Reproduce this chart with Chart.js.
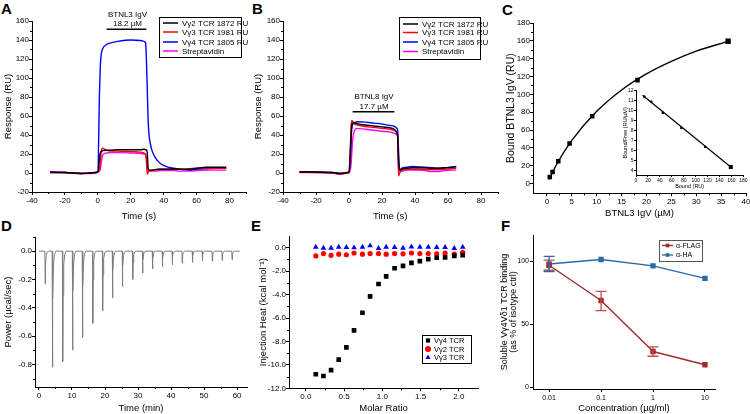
<!DOCTYPE html>
<html>
<head>
<meta charset="utf-8">
<script src="https://cdn.jsdelivr.net/npm/chart.js@4.4.1/dist/chart.umd.min.js"></script>
<style>
html, body { margin: 0; padding: 0; background: #fff; width: 750px; height: 414px; overflow: hidden; }
canvas { position: absolute; }
.lbl { position: absolute; font: bold 15px "Liberation Sans", Arial, sans-serif; line-height: 15px; }
</style>
</head>
<body>
<div class="lbl" style="left:1px;top:1px">A</div>
<div class="lbl" style="left:252px;top:1px">B</div>
<div class="lbl" style="left:502px;top:2px">C</div>
<div class="lbl" style="left:1px;top:218px">D</div>
<div class="lbl" style="left:251px;top:218px">E</div>
<div class="lbl" style="left:501px;top:218px">F</div>
<canvas id="cA"></canvas>
<canvas id="cB"></canvas>
<canvas id="cC"></canvas>
<canvas id="cInset"></canvas>
<canvas id="cD"></canvas>
<canvas id="cE"></canvas>
<canvas id="cF"></canvas>
<script>
// ---- data: panel A (SPR, BTNL3 IgV) ----
const aTime  = [-29,-20,-10,-5,-1,0,1,1.5,2,3,5,8,12,20,26,28,29,29.5,30,30.5,31,32,33,35,38,42,46,50,52,56,60,66,72,78]
const aVg2   = [0.5,0.5,-0.5,0,0.5,1,16,21,22.5,23.5,24,24,24.5,24.5,24.5,25,24.5,24.5,22,6,3.5,3,3,3.5,4,4,4.5,4,4,4,5,6,6,6]
const aVg3   = [0.5,0.5,-0.5,0,0.5,1.5,4,12,22,26,24,23,23,22.5,22,21,19.5,12,-1,0.5,2,2.5,3,3.5,4,4,4,4,4,4.5,5,5,5,5]
const aVg4   = [1,0.5,-0.5,0,0.5,1,85,112,124,131,135,137,138.5,140,139.5,138.5,137,120,90,58,42,30,23,16,10,6.5,5,4,3.5,3,4,4.5,5,5]
const aStrep = [1.5,0.5,-0.5,-0.5,0.5,1,2,4,10,19,21,21.5,21.5,21,20.5,20,19,17,8,3,2,2,2,2,2.5,2.5,2.5,2,2,2,2.5,3,3,3]
const aInjection = [5.3, 29.5]

// ---- panel B (SPR, BTNL8 IgV) ----
const bTime  = [-30,-20,-10,-5,-1,0,1,1.5,2,3,5,10,15,20,25,27,28,29,29.5,30,30.5,31,32,35,38,42,46,50,54,58,62,65]
const bVg2   = [1,1,0.5,-0.5,0.5,1,30,48,52,53,52,50.5,49.5,48.5,47.5,46.5,45,42,38,15,4,3,4,5,5.5,5.5,5.5,5,5,5.5,6,7]
const bVg3   = [1,0.5,0,-1,0,0.5,35,54,55,52,50.5,49,48,47,46,45,44.5,43,40,-3,-1,1,3,4,4,4,4,3.5,3.5,4,4.5,5]
const bVg4   = [1.5,1,0.5,-0.5,0.5,1,20,42,50,52.5,54,53.5,52.5,51.5,50,49.5,48.5,47,45,25,5,4,5,6,7,6.5,6,5.5,5,5.5,6,6.5]
const bStrep = [0.5,0.5,0,-1,0,0.5,5,15,30,43,47,46,45,44,43,42,41.5,40,38,10,2,2,2,3,3,3,2.5,1.5,1.5,2.5,3,3]
const bInjection = [2.2, 27.5]

const spTicksX = [-40,-20,0,20,40,60,80]
const spTicksY = [-20,0,20,40,60,80,100,120,140,160]

// ---- panel C (binding curve + Scatchard inset) ----
const cConc  = [0.57,1.14,2.28,4.55,9.1,18.2,36.4]
const cBound = [7.5,13,25,45,75.5,116,159.5]
const cFitConc  = [0.4,2,5,10,15,20,25,30,36.4]
const cFitBound = [4.7,22,48.4,81,105,123,137,148.4,159.5]
const cTicksX = [0,5,10,15,20,25,30,35,40]
const cTicksY = [0,20,40,60,80,100,120,140,160,180]

const inBound = [14,25.6,45,76,116,159]
const inRatio = [11.4,10.9,9.8,8.3,6.4,4.4]
const inFitBound = [11,160]
const inFitRatio = [11.55,4.35]
const inTicksX = [0,20,40,60,80,100,120,140,160,180]
const inTicksY = [4,5,6,7,8,9,10,11,12]

// ---- panel D (ITC raw power) ----
const dSpikeTime  = [1.8,4.0,7.1,10.1,13.1,16.2,19.2,22.2,25.2,28.3,31.3,34.3,37.3,40.3,43.3,46.4,49.4,52.4,55.4,58.4]
const dSpikeDepth = [-0.23,-0.82,-0.78,-0.70,-0.61,-0.51,-0.42,-0.33,-0.25,-0.20,-0.155,-0.125,-0.11,-0.095,-0.085,-0.08,-0.07,-0.07,-0.065,-0.06]
const dTicksX = [0,10,20,30,40,50,60]
const dTicksY = [0,-0.2,-0.4,-0.6,-0.8]

// ---- panel E (ITC integrated heats) ----
const eRatio = [0.13,0.23,0.33,0.43,0.53,0.63,0.74,0.84,0.95,1.05,1.16,1.27,1.38,1.49,1.60,1.71,1.82,1.94,2.05]
const eVg4 = [-10.8,-10.95,-10.45,-9.55,-8.5,-7.05,-5.55,-4.15,-3.1,-2.45,-1.75,-1.55,-1.3,-1.15,-0.97,-0.86,-0.83,-0.7,-0.63]
const eVg2 = [-0.7,-0.5,-0.65,-0.55,-0.6,-0.45,-0.55,-0.5,-0.5,-0.55,-0.5,-0.52,-0.45,-0.5,-0.5,-0.52,-0.45,-0.55,-0.4]
const eVg3 = [0.05,-0.03,-0.03,0.05,0.03,0,0.05,0.17,-0.06,0.05,0.03,-0.03,0.08,0.05,0.05,0.03,0.03,-0.06,0.05]
const eTicksX = [0,0.5,1,1.5,2]
const eTicksY = [0,-2,-4,-6,-8,-10,-12]

// ---- panel F (antibody blocking) ----
const fConc = [0.01,0.1,1,10]
const fFlag   = [97,69,28.5,18]
const fFlagLo = [93,61,24.7,18]
const fFlagHi = [101,76.3,32.2,18]
const fHA   = [98,101.5,96.5,86.5]
const fHALo = [92,101.5,96.5,86.5]
const fHAHi = [104,101.5,96.5,86.5]
const fTicksY = [0,50,100]


Chart.defaults.font.family = '"Liberation Sans", Arial, Helvetica, sans-serif'
Chart.defaults.color = '#000'

const FONT = '"Liberation Sans", Arial, sans-serif'

function xy(xs, ys) { return xs.map((x, i) => ({ x: x, y: ys[i] })) }

function steps(a, b, s) {
    const r = []
    for (let v = a; v <= b + 1e-9; v += s) r.push(+v.toFixed(4))
    return r
}

function trace(label, xs, ys, color) {
    return { label: label, data: xy(xs, ys), borderColor: color, backgroundColor: color, borderWidth: 1.4,
        pointRadius: 0, cubicInterpolationMode: 'monotone', fill: false }
}

function axis(ticks, min, max, title, o) {
    o = o || {}
    return {
        type: o.type || 'linear', min: min, max: max,
        afterBuildTicks: s => { s.ticks = ticks.map(v => ({ value: v })) },
        ticks: { font: { size: o.fs || 8 }, padding: o.tp === undefined ? 1 : o.tp, maxRotation: 0, autoSkip: false,
            callback: o.fmt || (v => String(v)) },
        grid: { drawOnChartArea: false, tickLength: o.tl || 3, color: '#000' },
        border: { color: '#000' },
        title: { display: true, text: title, font: { size: o.tfs || 9.5, lineHeight: o.tlh || 1.2 },
            padding: { top: o.tpad || 0, bottom: o.tpad || 0 } }
    }
}

// minor ticks between labelled ones
function minorTicks(mx, my, len) {
    return {
        id: 'minorTicks',
        afterDraw(chart) {
            const ctx = chart.ctx, sx = chart.scales.x, sy = chart.scales.y
            ctx.save()
            ctx.strokeStyle = '#000'
            ctx.lineWidth = 1
            ctx.beginPath()
            mx.forEach(v => {
                const p = Math.round(sx.getPixelForValue(v)) + 0.5
                ctx.moveTo(p, sx.top); ctx.lineTo(p, sx.top + len)
            })
            my.forEach(v => {
                const p = Math.round(sy.getPixelForValue(v)) + 0.5
                ctx.moveTo(sy.right, p); ctx.lineTo(sy.right - len, p)
            })
            ctx.stroke()
            ctx.restore()
        }
    }
}

function marker(ctx, style, x, y, r) {
    ctx.beginPath()
    if (style === 'rect') {
        const h = r * Math.SQRT1_2
        ctx.rect(x - h, y - h, 2 * h, 2 * h)
    } else if (style === 'triangle') {
        ctx.moveTo(x, y - r)
        ctx.lineTo(x + r * 0.866, y + r * 0.5)
        ctx.lineTo(x - r * 0.866, y + r * 0.5)
        ctx.closePath()
    } else {
        ctx.arc(x, y, r, 0, Math.PI * 2)
    }
    ctx.fill()
}

// boxed legend at page coordinates
function boxLegend(o) {
    return {
        id: 'boxLegend',
        afterDatasetsDraw(chart) {
            const ctx = chart.ctx, ox = chart.canvas.offsetLeft, oy = chart.canvas.offsetTop
            ctx.save()
            ctx.fillStyle = '#fff'
            ctx.fillRect(o.box[0] - ox, o.box[1] - oy, o.box[2], o.box[3])
            ctx.strokeStyle = o.border || '#000'
            ctx.lineWidth = 1
            ctx.strokeRect(o.box[0] - ox + 0.5, o.box[1] - oy + 0.5, o.box[2], o.box[3])
            ctx.font = o.font
            ctx.textBaseline = 'middle'
            chart.data.datasets.filter(d => !d.hideInLegend).forEach((d, i) => {
                const y = o.rows[i] - oy
                if (o.line) {
                    ctx.strokeStyle = d.borderColor
                    ctx.lineWidth = o.lw || 1.5
                    ctx.beginPath()
                    ctx.moveTo(o.line[0] - ox, y); ctx.lineTo(o.line[1] - ox, y)
                    ctx.stroke()
                }
                if (o.mx) {
                    ctx.fillStyle = d.backgroundColor
                    marker(ctx, d.pointStyle, o.mx - ox, y, o.mr)
                }
                ctx.fillStyle = '#000'
                ctx.fillText(d.label, o.tx - ox, y + 0.5)
            })
            ctx.restore()
        }
    }
}

// text annotations in data units
function notes(items, size) {
    return {
        id: 'notes',
        afterDatasetsDraw(chart) {
            const ctx = chart.ctx, sx = chart.scales.x, sy = chart.scales.y
            ctx.save()
            ctx.font = size + 'px ' + FONT
            ctx.fillStyle = '#000'
            ctx.textAlign = 'center'
            ctx.textBaseline = 'middle'
            items.forEach(it => ctx.fillText(it.text, sx.getPixelForValue(it.x), sy.getPixelForValue(it.y)))
            ctx.restore()
        }
    }
}

function errorBars(bars) {
    return {
        id: 'errorBars',
        afterDatasetsDraw(chart) {
            const ctx = chart.ctx, sx = chart.scales.x, sy = chart.scales.y
            bars.forEach(b => {
                ctx.save()
                ctx.strokeStyle = b.color
                ctx.lineWidth = 1.3
                b.x.forEach((xv, i) => {
                    if (b.hi[i] === b.lo[i]) return
                    const px = sx.getPixelForValue(xv), p1 = sy.getPixelForValue(b.lo[i]), p2 = sy.getPixelForValue(b.hi[i])
                    ctx.beginPath()
                    ctx.moveTo(px, p1); ctx.lineTo(px, p2)
                    ctx.moveTo(px - b.cap, p1); ctx.lineTo(px + b.cap, p1)
                    ctx.moveTo(px - b.cap, p2); ctx.lineTo(px + b.cap, p2)
                    ctx.stroke()
                })
                ctx.restore()
            })
        }
    }
}

// place a canvas and force its plot area to page coordinates [x0, y0, x1, y1]
function makeChart(id, box, area, config) {
    const cv = document.getElementById(id)
    cv.width = box[2]; cv.height = box[3]
    cv.style.left = box[0] + 'px'; cv.style.top = box[1] + 'px'
    const o = config.options
    o.responsive = false
    o.animation = false
    o.devicePixelRatio = 1
    o.layout = { padding: { top: area[1] - box[1], right: box[0] + box[2] - area[2], left: 0, bottom: 0 } }
    o.scales.x.afterFit = s => { s.height = box[1] + box[3] - area[3] }
    o.scales.y.afterFit = s => { s.width = area[0] - box[0] }
    o.plugins = Object.assign({ legend: { display: false }, tooltip: { enabled: false } }, o.plugins || {})
    return new Chart(cv, config)
}

function sprChart(id, box, area, time, s2, s3, s4, st, inj, barY, labels, legendBox, legendRows, lx) {
    return makeChart(id, box, area, {
        type: 'line',
        data: { datasets: [
            trace('V\u03b32 TCR 1872 RU', time, s2, '#000000'),
            trace('V\u03b33 TCR 1981 RU', time, s3, '#ff0000'),
            trace('V\u03b34 TCR 1805 RU', time, s4, '#0000ff'),
            trace('Streptavidin', time, st, '#ff00ff'),
            { data: xy(inj, [barY, barY]), borderColor: '#000', borderWidth: 1.5, pointRadius: 0, hideInLegend: true }
        ] },
        options: {
            scales: {
                x: axis(spTicksX, -40, 90, 'Time (s)', { tpad: 0 }),
                y: axis(spTicksY, -20, 160, 'Response (RU)', { tpad: 3, tp: 0 })
            }
        },
        plugins: [
            minorTicks(steps(-30, 90, 20), steps(-10, 150, 20), 2),
            boxLegend({ box: legendBox, rows: legendRows, line: [lx, lx + 15], tx: lx + 19, font: '8px ' + FONT }),
            notes(labels, 8)
        ]
    })
}

sprChart('cA', [0, 0, 250, 222], [32, 21, 246, 192], aTime, aVg2, aVg3, aVg4, aStrep, aInjection, 151.3,
    [{ x: 18, y: 166.6, text: 'BTNL3 IgV' }, { x: 18, y: 156.8, text: '18.2 \u00b5M' }],
    [159, 17, 82, 40], [23, 32, 42, 51], 163)

sprChart('cB', [250, 0, 250, 222], [283, 21, 497.5, 192], bTime, bVg2, bVg3, bVg4, bStrep, bInjection, 64.5,
    [{ x: 15.2, y: 80.7, text: 'BTNL8 IgV' }, { x: 15.2, y: 69.8, text: '17.7 \u00b5M' }],
    [399, 17, 81, 42], [24, 32.5, 42, 51.5], 403)

// panel C
makeChart('cC', [500, 0, 252, 222], [533, 23, 746, 193.3], {
    type: 'scatter',
    data: { datasets: [
        { data: xy(cFitConc, cFitBound), showLine: true, borderColor: '#000', borderWidth: 1.4, pointRadius: 0,
            cubicInterpolationMode: 'monotone' },
        { data: xy(cConc, cBound), pointStyle: 'rect', pointRadius: [3.2, 3.2, 3.2, 3.2, 3.2, 3.2, 3.8],
            backgroundColor: '#000', borderWidth: 0 }
    ] },
    options: {
        scales: {
            x: axis(cTicksX, -2.8, 40, 'BTNL3 IgV (\u00b5M)', { tpad: 3 }),
            y: axis(cTicksY, -10.8, 180, 'Bound BTNL3 IgV (RU)', { tpad: 5, tp: 0, tfs: 10.5 })
        }
    },
    plugins: [minorTicks(steps(2.5, 37.5, 5), steps(10, 170, 20), 2)]
})

// Scatchard inset
makeChart('cInset', [618, 84, 132, 110], [636, 90.7, 743.3, 175], {
    type: 'scatter',
    data: { datasets: [
        { data: xy(inFitBound, inFitRatio), showLine: true, borderColor: '#000', borderWidth: 1.2, pointRadius: 0 },
        { data: xy(inBound, inRatio), pointStyle: 'rect', pointRadius: [1.6, 1.6, 1.6, 1.6, 1.6, 2.8],
            backgroundColor: '#000', borderWidth: 0 }
    ] },
    options: {
        scales: {
            x: axis(inTicksX, 0, 180, 'Bound (RU)', { fs: 5, tfs: 5.5, tl: 2, tp: 0.5, tpad: 4.5 }),
            y: axis(inTicksY, 3.6, 12, 'Bound/Free (RU/\u00b5M)', { fs: 5, tfs: 5.5, tl: 2, tp: 0.5, tpad: 4.5 })
        }
    }
})

// panel D: injection spikes on the baseline
const dShape = [[0, 0], [0.08, 1], [0.2, 0.4], [0.4, 0.12], [0.7, 0.03], [1.1, 0]]
const dTrace = [{ x: 0, y: 0 }]
dSpikeTime.forEach((t, i) => dShape.forEach(s => dTrace.push({ x: t + s[0], y: dSpikeDepth[i] * s[1] })))
dTrace.push({ x: 60.8, y: 0 })

makeChart('cD', [0, 222, 250, 192], [35, 237, 247, 387], {
    type: 'line',
    data: { datasets: [
        { data: dTrace, borderColor: '#7c7c7c', borderWidth: 1, pointRadius: 0, tension: 0 }
    ] },
    options: {
        scales: {
            x: axis(dTicksX, -1.2, 63, 'Time (min)', { tpad: 0 }),
            y: axis(dTicksY, -0.96, 0.1, 'Power (\u00b5cal/sec)', { tpad: 2.5, tp: 0, fmt: v => v.toFixed(1) })
        }
    },
    plugins: [minorTicks(steps(5, 55, 10), [0.1, -0.1, -0.3, -0.5, -0.7, -0.9], 2)]
})

// panel E
makeChart('cE', [250, 222, 250, 192], [289, 236, 478, 388.3], {
    type: 'scatter',
    data: { datasets: [
        { label: 'V\u03b34 TCR', data: xy(eRatio, eVg4), pointStyle: 'rect', pointRadius: 3.3, backgroundColor: '#000', borderWidth: 0 },
        { label: 'V\u03b32 TCR', data: xy(eRatio, eVg2), pointStyle: 'circle', pointRadius: 2.6, backgroundColor: '#ff0000', borderWidth: 0 },
        { label: 'V\u03b33 TCR', data: xy(eRatio, eVg3), pointStyle: 'triangle', pointRadius: 3.3, backgroundColor: '#0000ff', borderWidth: 0 }
    ] },
    options: {
        scales: {
            x: axis(eTicksX, -0.22, 2.25, 'Molar Ratio', { tpad: 0, fmt: v => v.toFixed(1) }),
            y: axis(eTicksY, -12, 1, 'Injection Heat (kcal mol\u207b\u00b9)', { tpad: 8, tp: 0, fmt: v => v.toFixed(1) })
        }
    },
    plugins: [
        minorTicks([0.25, 0.75, 1.25, 1.75], [-1, -3, -5, -7, -9, -11], 2),
        boxLegend({ box: [422, 335, 49, 28], rows: [340.5, 349, 357.5], mx: 428, mr: 3, tx: 434, font: '7.5px ' + FONT })
    ]
})

// panel F
makeChart('cF', [500, 222, 250, 192], [533, 235, 715, 389], {
    type: 'line',
    data: { datasets: [
        { label: '\u03b1-FLAG', data: xy(fConc, fFlag), borderColor: '#a3282b', backgroundColor: '#a3282b', borderWidth: 1.4,
            pointStyle: 'rect', pointRadius: 2.8, borderJoinStyle: 'round' },
        { label: '\u03b1-HA', data: xy(fConc, fHA), borderColor: '#2b6aa8', backgroundColor: '#2b6aa8', borderWidth: 1.4,
            pointStyle: 'rect', pointRadius: 2.8 }
    ] },
    options: {
        scales: {
            x: axis(fConc, 0.0049, 15.6, 'Concentration (\u00b5g/ml)', { type: 'logarithmic', fs: 7, tpad: 0, tp: 2 }),
            y: axis(fTicksY, -1.3, 121, ['Soluble V\u03b34V\u03b41 TCR binding', '(as % of isotype ctrl)'],
                { fs: 7, tp: 1, tpad: 0, tfs: 9, tlh: 1 })
        }
    },
    plugins: [
        errorBars([
            { x: fConc, lo: fFlagLo, hi: fFlagHi, color: '#c0504d', cap: 5.5 },
            { x: fConc, lo: fHALo, hi: fHAHi, color: '#2b6aa8', cap: 5.5 }
        ]),
        boxLegend({ box: [659, 240, 43, 21], rows: [245.5, 255], line: [662, 673], lw: 1.3, mx: 667.5, mr: 2.6, tx: 676,
            border: '#555', font: '7px ' + FONT })
    ]
})
</script>
</body>
</html>
